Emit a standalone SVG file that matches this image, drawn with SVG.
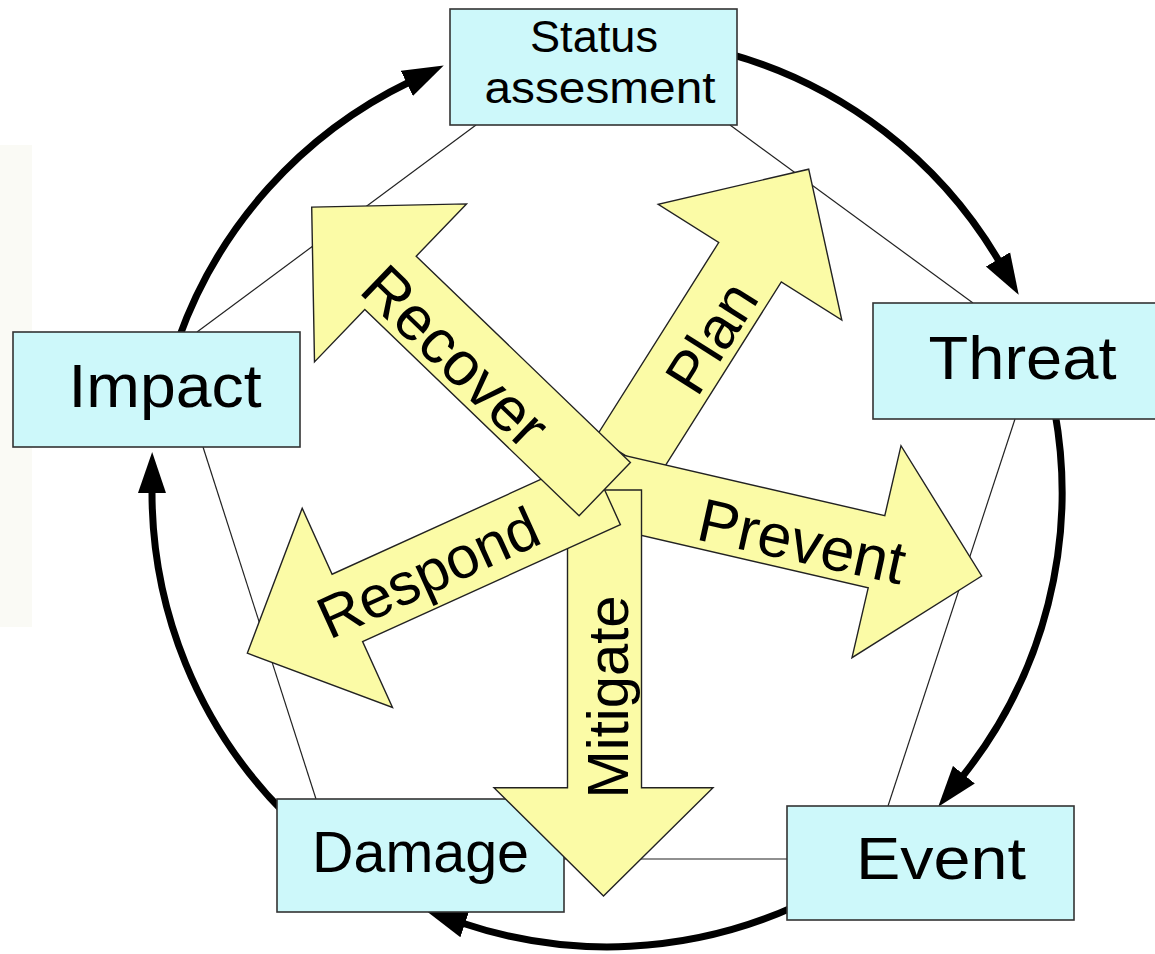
<svg xmlns="http://www.w3.org/2000/svg" width="1155" height="954" viewBox="0 0 1155 954">
<style>
  .edge{fill:none;stroke:#222;stroke-width:1.2}
  .cyc{fill:none;stroke:#000;stroke-width:7;marker-end:url(#ah)}
  .box{fill:#cdf8fa;stroke:#333;stroke-width:1.6}
  .arw{fill:#fbfba6;stroke:#222;stroke-width:1.4;stroke-linejoin:miter}
  .t{font-family:"Liberation Sans",Arial,sans-serif;fill:#000;text-anchor:middle}
</style>
<defs>
  <marker id="ah" markerUnits="userSpaceOnUse" markerWidth="42" markerHeight="30" viewBox="0 0 42 30" refX="3" refY="15" orient="auto">
    <path d="M0,1 L41,15 L0,29 z" fill="#000"/>
  </marker>
</defs>
<rect x="0" y="0" width="1155" height="954" fill="#fff"/>
<rect x="0" y="145" width="32" height="482" fill="#fafaf5"/>

<g id="connectors">
  <line class="edge" x1="476" y1="125" x2="197" y2="332"/>
  <line class="edge" x1="730" y1="125" x2="973" y2="303"/>
  <line class="edge" x1="1015" y1="419" x2="888" y2="806"/>
  <line class="edge" x1="787" y1="859" x2="564" y2="859"/>
  <line class="edge" x1="316" y1="799" x2="203" y2="447"/>
  <path class="cyc" d="M178.4,339.4 A455,455 0 0 1 409.5,82"/>
  <path class="cyc" d="M728.6,53.6 A455,455 0 0 1 999.5,262"/>
  <path class="cyc" d="M1054.8,411.4 A455,455 0 0 1 962,777"/>
  <path class="cyc" d="M795,906.4 A455,455 0 0 1 462,923"/>
  <path class="cyc" d="M283,811.5 A455,455 0 0 1 152,490"/>
</g>

<g id="status">
  <rect class="box" x="450" y="9" width="287" height="116"/>
  <text class="t" x="594" y="51.5" font-size="44" textLength="128" lengthAdjust="spacingAndGlyphs">Status</text>
  <text class="t" x="600" y="103" font-size="44" textLength="231" lengthAdjust="spacingAndGlyphs">assesment</text>
</g>
<g id="impact">
  <rect class="box" x="13" y="332" width="287" height="115"/>
  <text class="t" x="165" y="407" font-size="61" textLength="193" lengthAdjust="spacingAndGlyphs">Impact</text>
</g>
<g id="threat">
  <rect class="box" x="873" y="303" width="290" height="116"/>
  <text class="t" x="1022.5" y="379" font-size="61" textLength="188" lengthAdjust="spacingAndGlyphs">Threat</text>
</g>
<g id="damage">
  <rect class="box" x="277" y="799" width="287" height="113"/>
  <text class="t" x="420.5" y="872" font-size="58" textLength="217" lengthAdjust="spacingAndGlyphs">Damage</text>
</g>
<g id="event">
  <rect class="box" x="787" y="806" width="287" height="114"/>
  <text class="t" x="941" y="879" font-size="60" textLength="170" lengthAdjust="spacingAndGlyphs">Event</text>
</g>

<g id="plan">
  <polygon class="arw" points="808.7,169.2 841.8,320.1 781.3,281.9 658.6,476.4 596,437 718.7,242.5 658.2,204.3"/>
  <text class="t" font-size="59" transform="translate(711,337) rotate(-57.8)" y="21">Plan</text>
</g>
<g id="prevent">
  <polygon class="arw" points="981.7,576 852,657.7 868.2,587.8 583.4,522 600,449.8 884.8,515.6 901,445.7"/>
  <text class="t" font-size="61" transform="translate(802,541) rotate(12.5)" y="21.5">Prevent</text>
</g>
<g id="mitigate">
  <polygon class="arw" points="567.5,490 641.5,490 641.5,787.7 713,787.7 603.5,896 494,787.7 567.5,787.7"/>
  <text class="t" font-size="58" transform="translate(607.5,697) rotate(-90)" y="20.5">Mitigate</text>
</g>
<g id="respond">
  <polygon class="arw" points="247.3,653.2 302.2,508.2 332.1,574.2 589.8,457.2 620.4,524.6 362.6,641.5 392.5,707.5"/>
  <text class="t" font-size="59" transform="translate(428,572) rotate(-24.4)" y="21">Respond</text>
</g>
<g id="recover">
  <polygon class="arw" points="311.7,207.1 466.5,203.9 416.2,256.2 630.4,462.5 579.1,515.8 364.8,309.6 314.5,361.9"/>
  <text class="t" font-size="62" transform="translate(456,356) rotate(43.9)" y="22">Recover</text>
</g>
</svg>
